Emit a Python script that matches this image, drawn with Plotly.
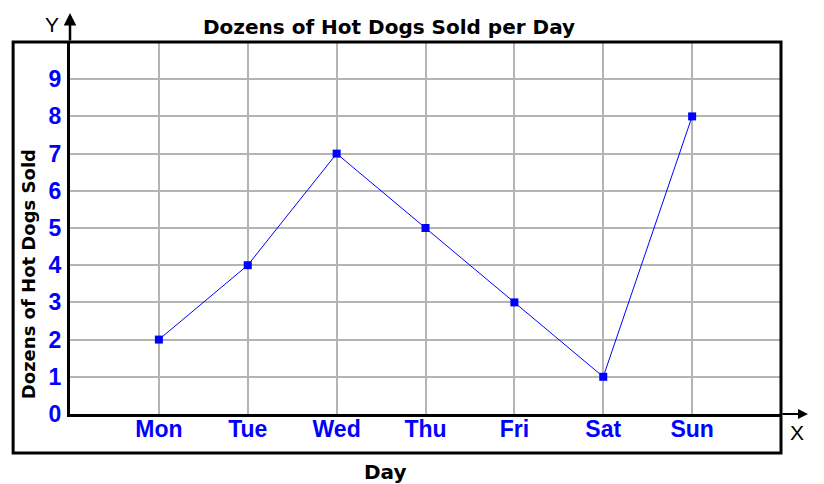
import plotly.graph_objects as go

days = ["Mon", "Tue", "Wed", "Thu", "Fri", "Sat", "Sun"]
dozens = [2, 4, 7, 5, 3, 1, 8]
y_ticks = [0, 1, 2, 3, 4, 5, 6, 7, 8, 9]

TICK_FONT = "Liberation Sans, Arial, sans-serif"
TITLE_FONT = "DejaVu Sans, Verdana, sans-serif"
BLUE = "#0000ff"

fig = go.Figure()
fig.add_trace(
    go.Scatter(
        x=days,
        y=dozens,
        mode="lines+markers",
        line=dict(color=BLUE, width=1),
        marker=dict(symbol="square", size=8, color=BLUE),
        showlegend=False,
        cliponaxis=False,
    )
)

fig.update_xaxes(
    type="category",
    range=[-1, 7],
    showgrid=True,
    gridcolor="#b4b4b4",
    gridwidth=1.5,
    showline=True,
    linecolor="black",
    linewidth=3,
    zeroline=False,
    ticks="",
    tickfont=dict(family=TICK_FONT, size=23, color=BLUE, weight="bold"),
    ticklabelstandoff=-8,
)
fig.update_yaxes(
    range=[0, 10],
    tickvals=y_ticks,
    showgrid=True,
    gridcolor="#b4b4b4",
    gridwidth=1.5,
    showline=True,
    linecolor="black",
    linewidth=3,
    zeroline=False,
    ticks="",
    tickfont=dict(family=TICK_FONT, size=23, color=BLUE, weight="bold"),
    ticklabelstandoff=1,
)

# outer frame that wraps the plot and tick labels
fig.add_shape(
    type="rect", xref="paper", yref="paper",
    x0=-0.08, x1=1.0, y0=-0.105, y1=1.0,
    line=dict(color="black", width=3), layer="above",
)

# axis arrows
fig.add_annotation(
    xref="paper", yref="paper", x=0, y=1.078, ax=0, ay=29,
    showarrow=True, arrowhead=2, arrowsize=1, arrowwidth=2.5, arrowcolor="black", text="",
)
fig.add_annotation(
    xref="paper", yref="paper", x=1.038, y=0, ax=-27, ay=0,
    showarrow=True, arrowhead=2, arrowsize=1, arrowwidth=2, arrowcolor="black", text="",
)

labels = [
    ("Dozens of Hot Dogs Sold per Day", 0.449, 1.040, TITLE_FONT, 20, "bold", 0),
    ("Y", -0.0253, 1.046, TICK_FONT, 21, "normal", 0),
    ("X", 1.0225, -0.051, TICK_FONT, 21, "normal", 0),
    ("Day", 0.444, -0.156, TITLE_FONT, 20, "bold", 0),
    ("Dozens of Hot Dogs Sold", -0.059, 0.376, TITLE_FONT, 18, "bold", -90),
]
for text, x, y, family, size, weight, angle in labels:
    fig.add_annotation(
        xref="paper", yref="paper", x=x, y=y, text=text, showarrow=False,
        xanchor="center", yanchor="middle", textangle=angle,
        font=dict(family=family, size=size, color="black", weight=weight),
    )

fig.update_layout(
    width=824,
    height=484,
    margin=dict(l=62, r=51, t=34, b=78),
    plot_bgcolor="white",
    paper_bgcolor="white",
)
fig.write_html("out.html")
